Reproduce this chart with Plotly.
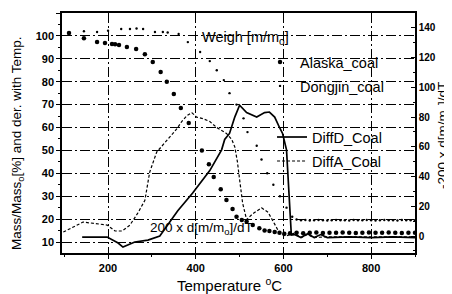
import plotly.graph_objects as go

# ---------------- data ----------------
alaska_x = [111, 145, 175, 193, 209, 216, 225, 243, 264, 284, 302, 320, 334, 350, 366, 384,
            414, 430, 441, 457, 470, 484, 493, 505, 516, 530, 545, 557, 568, 580, 591, 602,
            615, 630, 645, 660, 675, 690, 705, 720, 735, 750, 765, 780, 795, 810, 825, 840,
            855, 870, 885, 900]
alaska_y = [101.3, 99, 97.3, 96.9, 96.5, 96.3, 96, 95.2, 94.3, 92, 88.6, 84.2, 80, 74.6, 68.5, 62,
            50, 44, 38.4, 33, 28.3, 24.4, 21, 19.6, 19, 17.4, 16, 15, 14.8, 14.4, 14, 13.6,
            13.8, 14, 13.8, 14, 14.1, 13.9, 14, 14, 14.1, 14, 13.9, 14, 14.1, 14, 14, 14.1,
            14, 13.9, 14, 14]

dongjin_x = [110, 145, 175, 200, 230, 250, 265, 280, 307, 325, 336, 361, 382, 410, 432, 448,
             464, 477, 493, 509, 518, 539, 550, 563, 577, 592, 607, 620, 630, 640, 650, 660,
             670, 680, 690, 700, 710, 720, 730, 740, 750, 760, 770, 780, 790, 800, 810, 820,
             830, 840, 850, 860, 870, 880, 890, 900]
dongjin_y = [101, 102, 101.7, 102.3, 103, 103, 103.2, 103, 101.7, 101.7, 101.5, 100.8, 97.3, 93, 89, 85,
             80.7, 75, 70, 64, 58, 52, 46, 40, 35, 30, 25, 21, 19.8, 19.5, 19.6, 19.4,
             19.5, 19.6, 19.5, 19.4, 19.5, 19.6, 19.5, 19.5, 19.4, 19.6, 19.5, 19.5, 19.6, 19.5, 19.4, 19.5,
             19.6, 19.5, 19.5, 19.4, 19.6, 19.5, 19.5, 19.5]

diffd_x = [141, 198, 223, 234, 261, 291, 318, 341, 359, 393, 432, 459, 466, 477, 489, 500,
           516, 539, 557, 568, 580, 591, 598, 607, 614, 618, 625, 640, 655, 670, 685, 700,
           750, 800, 850, 900]
diffd_y = [-0.7, -0.7, -4.7, -7.4, -4, -2.7, 0, 9.4, 17, 29, 44, 58, 65, 69, 80, 88,
           83, 80, 83, 83.4, 80, 73, 69, 58, 24, 0.7, 1, -1, 1.5, -1, 1, -1,
           -0.5, -1, -0.5, -1]

diffa_x = [98, 143, 182, 198, 216, 232, 250, 268, 284, 295, 311, 325, 336, 348, 359, 368,
           380, 391, 402, 416, 432, 448, 470, 482, 489, 495, 500, 507, 516, 530, 550, 565,
           580, 591, 605, 625, 640, 655, 670, 700, 800, 900]
diffa_y = [2.7, 9.4, 8, 7.4, 3.4, 3.4, 7.4, 15.5, 24, 43, 56.5, 61, 64.6, 69, 73, 77,
           81, 83, 80, 79, 77, 73, 69, 65, 60, 50, 38, 22, 11, 15, 19, 16,
           8, 2, 0, 2, -1, 1, -1, -0.5, -0.5, -0.5]

x_ticks = [200, 400, 600, 800]
left_ticks = [10, 20, 30, 40, 50, 60, 70, 80, 90, 100, 110]
right_ticks = [0, 20, 40, 60, 80, 100, 120, 140]

FONT = "Liberation Sans, Arial, sans-serif"

fig = go.Figure()
fig.add_trace(go.Scatter(x=alaska_x, y=alaska_y, mode="markers", name="Alaska_coal",
                         marker=dict(color="black", size=4.5), legend="legend"))
fig.add_trace(go.Scatter(x=dongjin_x, y=dongjin_y, mode="markers", name="Dongjin_coal",
                         marker=dict(color="black", size=2.4), legend="legend2"))
fig.add_trace(go.Scatter(x=diffd_x, y=diffd_y, mode="lines", name="DiffD_Coal", yaxis="y2",
                         line=dict(color="black", width=1.7), legend="legend3"))
fig.add_trace(go.Scatter(x=diffa_x, y=diffa_y, mode="lines", name="DiffA_Coal", yaxis="y2",
                         line=dict(color="black", width=1.2, dash="3px,2px"), legend="legend4"))

# the page shows the figure offset by the default 8px body margin, so the
# margins are shifted 8px up/left to land the plot area where the reference has it
grid_dash = "10px,3px,2px,3px"
fig.update_layout(
    template="none",
    width=452, height=294,
    margin=dict(l=54, r=45, t=5, b=49, autoexpand=False),
    paper_bgcolor="white", plot_bgcolor="white",
    font=dict(family=FONT, color="black", size=12),
    xaxis=dict(range=[95, 900], tickvals=x_ticks, ticks="outside", ticklen=4, tickwidth=1.2,
               tickcolor="black", automargin=False,
               minor=dict(dtick=100, ticks="outside", ticklen=2, tickcolor="black", showgrid=False),
               showline=True, linecolor="black", linewidth=1.5, mirror=True,
               showgrid=True, gridcolor="black", gridwidth=1.1, griddash=grid_dash,
               tickfont=dict(size=11, family=FONT, weight="bold"),
               zeroline=False),
    yaxis=dict(range=[5.2, 110], tickvals=left_ticks, ticks="outside", ticklen=4, tickwidth=1.2,
               tickcolor="black", automargin=False,
               minor=dict(dtick=5, ticks="outside", ticklen=2, tickcolor="black", showgrid=False),
               showline=True, linecolor="black", linewidth=1.5,
               showgrid=True, gridcolor="black", gridwidth=1.1, griddash=grid_dash,
               tickfont=dict(size=11, family=FONT, weight="bold"),
               zeroline=False),
    yaxis2=dict(range=[-11.4, 150], tickvals=right_ticks, overlaying="y", side="right",
                ticks="inside", ticklen=4, tickwidth=1.2, tickcolor="black", automargin=False,
                minor=dict(dtick=10, ticks="inside", ticklen=2, tickcolor="black"),
                showline=True, linecolor="black", linewidth=1.5, showgrid=False,
                tickfont=dict(size=10, family=FONT, weight="bold"),
                zeroline=False),
    showlegend=True,
)

leg_common = dict(bgcolor="rgba(0,0,0,0)", borderwidth=0, font=dict(size=14.5, family=FONT),
                  xanchor="left", yanchor="middle", itemwidth=30)
fig.update_layout(
    legend=dict(x=0.561, y=0.796, **leg_common),
    legend2=dict(x=0.561, y=0.696, **leg_common),
    legend3=dict(x=0.595, y=0.483, **leg_common),
    legend4=dict(x=0.595, y=0.383, **leg_common),
)

def px_x(p):
    return (p - 62) / 353

def px_y(p):
    return (253 - p) / 240

# axis titles placed as text at the reference positions
fig.add_annotation(text="Temperature <sup>o</sup>C", xref="paper", yref="paper",
                   x=px_x(229), y=px_y(284), showarrow=False, xanchor="center", yanchor="middle",
                   font=dict(size=15, family=FONT))
fig.add_annotation(text="Mass/Mass<sub>o</sub>[%] and der. with Temp.", xref="paper", yref="paper",
                   x=px_x(17), y=px_y(143), textangle=-90, showarrow=False,
                   xanchor="center", yanchor="middle", font=dict(size=13.5, family=FONT))
fig.add_annotation(text="-200 x d[m/m<sub>o</sub>]/dT", xref="paper", yref="paper",
                   x=px_x(444), y=px_y(136), textangle=-90, showarrow=False,
                   xanchor="center", yanchor="middle", font=dict(size=13.5, family=FONT))
fig.add_annotation(text="Weigh [m/m<sub>o</sub>]", xref="paper", yref="paper",
                   x=px_x(245), y=px_y(27), showarrow=False,
                   font=dict(size=14.5, family=FONT))
fig.add_annotation(text="200 x d[m/m<sub>o</sub>]/dT", xref="paper", yref="paper",
                   x=px_x(201), y=px_y(239), showarrow=False,
                   font=dict(size=13.5, family=FONT))

fig.write_html("out.html")
